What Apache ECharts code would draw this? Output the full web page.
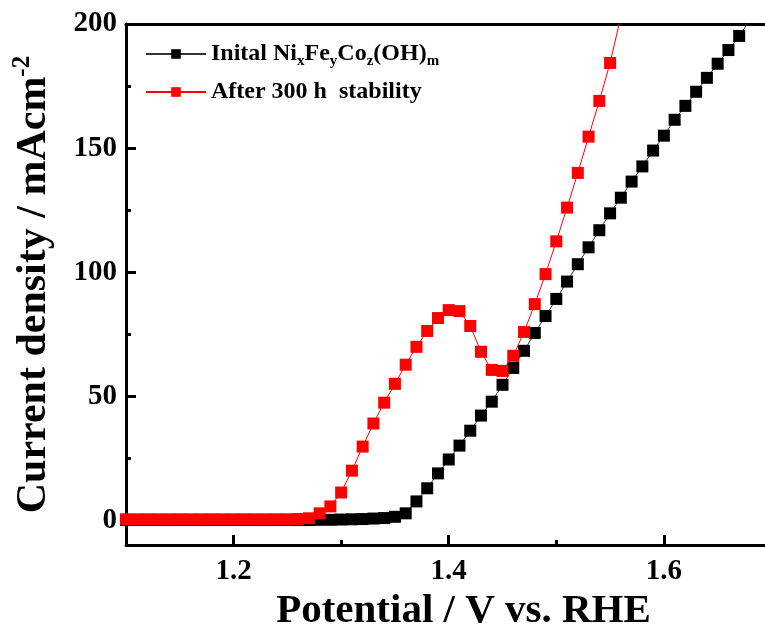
<!DOCTYPE html>
<html>
<head>
<meta charset="utf-8">
<script src="https://cdn.jsdelivr.net/npm/echarts@6/dist/echarts.min.js"></script>
<style>
  html, body { margin: 0; padding: 0; background: #fff; }
  #chart { width: 765px; height: 637px; }
</style>
</head>
<body>
<div id="chart"></div>
<script>
// Potential (V vs. RHE), 10 mV steps
const potentials = [
  1.10, 1.11, 1.12, 1.13, 1.14, 1.15, 1.16, 1.17, 1.18, 1.19,
  1.20, 1.21, 1.22, 1.23, 1.24, 1.25, 1.26, 1.27, 1.28, 1.29,
  1.30, 1.31, 1.32, 1.33, 1.34, 1.35, 1.36, 1.37, 1.38, 1.39,
  1.40, 1.41, 1.42, 1.43, 1.44, 1.45, 1.46, 1.47, 1.48, 1.49,
  1.50, 1.51, 1.52, 1.53, 1.54, 1.55, 1.56, 1.57, 1.58, 1.59,
  1.60, 1.61, 1.62, 1.63, 1.64, 1.65, 1.66, 1.67, 1.68
];

// 初始样品电流密度 (mA cm-2)
const currentInitial = [
  0.1, 0.1, 0.1, 0.1, 0.1, 0.1, 0.1, 0.1, 0.1, 0.1,
  0.1, 0.1, 0.1, 0.1, 0.1, 0.1, 0.1, 0.1, 0.2, 0.2,
  0.3, 0.4, 0.5, 0.7, 0.9, 1.4, 2.8, 7.6, 12.9, 18.9,
  24.5, 30.1, 36.1, 42.2, 47.8, 54.6, 61.4, 68.3, 75.5, 82.3,
  89.2, 96.2, 103.2, 110.0, 116.9, 123.7, 130.0, 136.5, 142.6, 149.0,
  155.0, 161.4, 167.0, 172.7, 178.3, 184.0, 189.5, 195.2, 201.5
];

// 300 h 稳定性测试后
const currentAfter = [
  0.4, 0.4, 0.4, 0.4, 0.4, 0.4, 0.4, 0.4, 0.4, 0.4,
  0.4, 0.4, 0.4, 0.4, 0.4, 0.4, 0.5, 0.8, 2.8, 5.6,
  11.2, 20.0, 29.7, 39.0, 47.4, 55.0, 62.7, 69.9, 76.3, 81.5,
  84.7, 84.3, 78.3, 67.9, 60.6, 60.2, 66.3, 75.9, 87.1, 99.2,
  112.4, 126.0, 140.0, 154.6, 169.0, 184.3, 203.0
];

const xMajorTicks = [1.2, 1.4, 1.6];
const xMinorTicks = [1.3, 1.5];
const yMajorTicks = [0, 50, 100, 150, 200];
const yMinorTicks = [25, 75, 125, 175];

const nameInitial = 'Inital NixFeyCoz(OH)m';
const nameAfter = 'After 300 h  stability';

const serif = 'Liberation Serif, Times New Roman, serif';
const xRange = [1.1, 1.694];
const yRange = [-10, 200];

const pairUp = (xs, ys) => ys.map((y, i) => [xs[i], y]);

const chart = echarts.init(document.getElementById('chart'));

const labelFont = { fontFamily: serif, fontWeight: 'bold', fontSize: 29, color: '#000' };

// 只画刻度的辅助轴
const tickAxis = (range, pos, values, len) => ({
  type: 'value', min: range[0], max: range[1], position: pos,
  axisLine: { show: false, onZero: false },
  axisTick: { show: true, inside: true, length: len, lineStyle: { color: '#000', width: 3 }, customValues: values },
  axisLabel: { show: false },
  splitLine: { show: false }
});

chart.setOption({
  animation: false,
  grid: { left: 126, right: 0, top: 24, bottom: 91 },
  legend: {
    orient: 'vertical',
    left: 140,
    top: 34,
    itemWidth: 60,
    itemHeight: 12,
    itemGap: 8,
    data: [nameInitial, nameAfter],
    formatter: name => name === nameInitial
      ? 'Inital Ni{sub|x}Fe{sub|y}Co{sub|z}(OH){sub|m}'
      : name,
    textStyle: {
      fontFamily: serif, fontWeight: 'bold', fontSize: 24, color: '#000', lineHeight: 30,
      rich: {
        sub: { fontFamily: serif, fontWeight: 'bold', fontSize: 15, lineHeight: 12, verticalAlign: 'bottom' }
      }
    }
  },
  xAxis: [
    {
      type: 'value', min: xRange[0], max: xRange[1], position: 'bottom',
      axisLine: { onZero: false, lineStyle: { color: '#000', width: 3 } },
      axisTick: { show: false },
      axisLabel: { ...labelFont, margin: 12, customValues: xMajorTicks, formatter: v => v.toFixed(1) },
      splitLine: { show: false },
      name: 'Potential / V vs. RHE',
      nameLocation: 'middle',
      nameGap: 41,
      nameTextStyle: { fontFamily: serif, fontWeight: 'bold', fontSize: 41, color: '#000', padding: [0, 0, 0, 36] }
    },
    tickAxis(xRange, 'bottom', xMajorTicks, 10),
    tickAxis(xRange, 'bottom', xMinorTicks, 5),
    {
      // 顶部边框
      type: 'value', min: xRange[0], max: xRange[1], position: 'top',
      axisLine: { onZero: false, lineStyle: { color: '#000', width: 3 } },
      axisTick: { show: false },
      axisLabel: { show: false },
      splitLine: { show: false }
    }
  ],
  yAxis: [
    {
      type: 'value', min: yRange[0], max: yRange[1], position: 'left',
      axisLine: { show: true, onZero: false, lineStyle: { color: '#000', width: 3 } },
      axisTick: { show: false },
      axisLabel: { ...labelFont, margin: 9, customValues: yMajorTicks },
      splitLine: { show: false },
      name: 'Current density / mAcm{sup|-2}',
      nameLocation: 'middle',
      nameRotate: 90,
      nameGap: 68,
      nameTextStyle: {
        fontFamily: serif, fontWeight: 'bold', fontSize: 42, color: '#000', lineHeight: 48,
        rich: {
          sup: { fontFamily: serif, fontWeight: 'bold', fontSize: 25, lineHeight: 24, verticalAlign: 'top' }
        }
      }
    },
    tickAxis(yRange, 'left', yMajorTicks, 10),
    tickAxis(yRange, 'left', yMinorTicks, 5)
  ],
  series: [
    {
      name: nameInitial,
      type: 'line',
      data: pairUp(potentials, currentInitial),
      symbol: 'rect',
      symbolSize: 12,
      clip: true,
      itemStyle: { color: '#000' },
      lineStyle: { color: '#333', width: 1 },
      z: 2
    },
    {
      name: nameAfter,
      type: 'line',
      data: pairUp(potentials, currentAfter),
      symbol: 'rect',
      symbolSize: 12,
      clip: true,
      itemStyle: { color: '#ff0000' },
      lineStyle: { color: '#ff0000', width: 1 },
      z: 3
    }
  ]
});
</script>
</body>
</html>
